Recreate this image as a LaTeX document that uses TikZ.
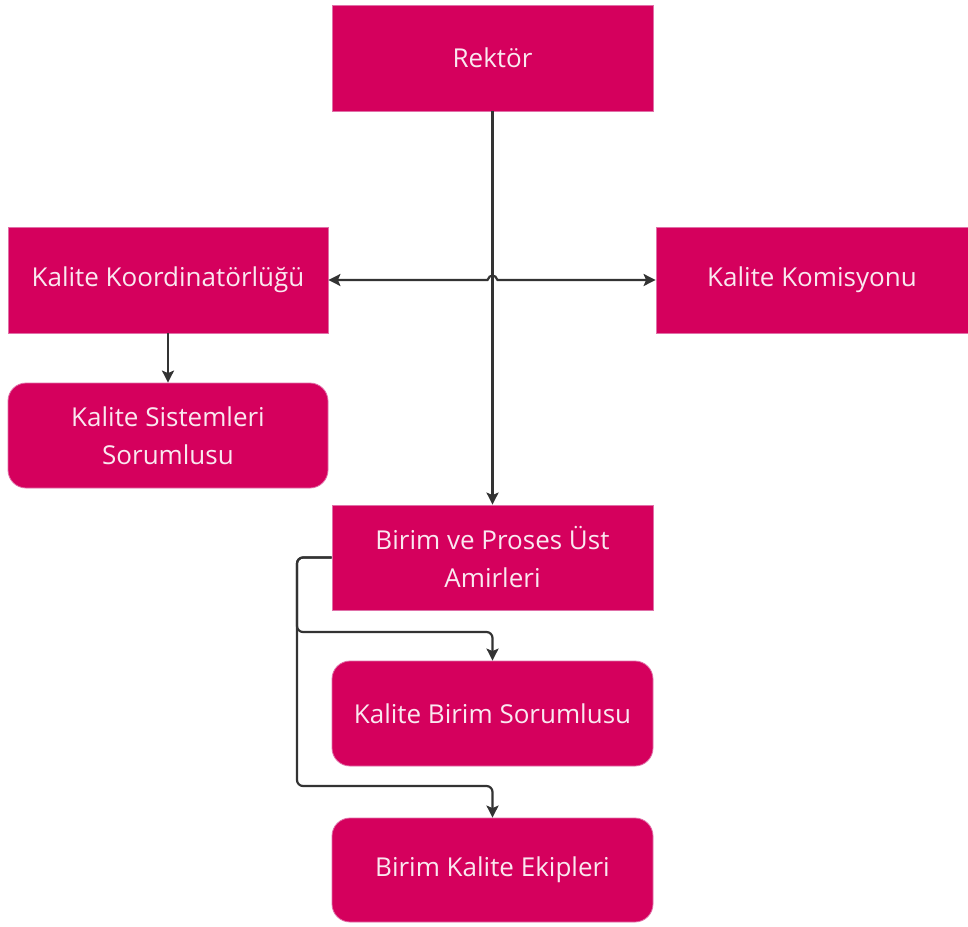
\documentclass[tikz,border=0pt]{standalone}
\usepackage{fontspec}
\setmainfont{Open Sans}
\usetikzlibrary{arrows.meta}
\definecolor{boxfill}{HTML}{D5005D}
\definecolor{boxtext}{HTML}{FAE8F0}
\definecolor{boxedge}{HTML}{E070A8}
\definecolor{linec}{HTML}{333333}
\tikzset{
  box/.style={draw=boxedge, line width=0.8pt, fill=boxfill, text=boxtext, align=center,
    minimum width=321pt, minimum height=106pt, inner sep=0pt,
    font=\fontsize{26}{38}\selectfont},
  rbox/.style={box, rounded corners=18pt},
  conn/.style={draw=linec, line width=2.2pt},
  arr/.style={conn, -{Stealth[length=12pt,width=12pt,inset=2.5pt]}},
  darr/.style={conn, {Stealth[length=12pt,width=12pt,inset=2.5pt]}-{Stealth[length=12pt,width=12pt,inset=2.5pt]}}
}
\begin{document}
\begin{tikzpicture}[x=1pt,y=-1pt]
\useasboundingbox (0,0) rectangle (968,926);
\node[box] (rektor) at (492.5,58) {Rektör};
\node[box, minimum width=320pt] (koord) at (168,280) {Kalite Koordinatörlüğü};
\node[box, minimum width=312pt] (komis) at (812,280) {Kalite Komisyonu};
\node[rbox, minimum width=320pt, minimum height=105pt] (sist) at (168,435.5) {Kalite Sistemleri\\Sorumlusu};
\node[box, minimum height=105pt] (birim) at (492.5,557.5) {Birim ve Proses Üst\\Amirleri};
\node[rbox, minimum height=105pt] (kbs) at (492.5,713.5) {Kalite Birim Sorumlusu};
\node[rbox, minimum height=104pt] (bke) at (492.5,870) {Birim Kalite Ekipleri};
\coordinate (x) at (rektor.south |- koord.east);
\coordinate (b1) at (297,632);
\coordinate (b2) at (297,786);
\draw[arr] (rektor.south) -- (birim.north);
\draw[darr] (koord.east) -- ([xshift=-5pt]x) .. controls +(2,-6) and +(-2,-6) .. ([xshift=5pt]x) -- (komis.west);
\draw[arr] (koord.south) -- (sist.north);
\draw[arr, rounded corners=6pt] (birim.west) -| (b1) -| (kbs.north);
\draw[arr, rounded corners=6pt] (birim.west) -| (b2) -| (bke.north);
\end{tikzpicture}
\end{document}
